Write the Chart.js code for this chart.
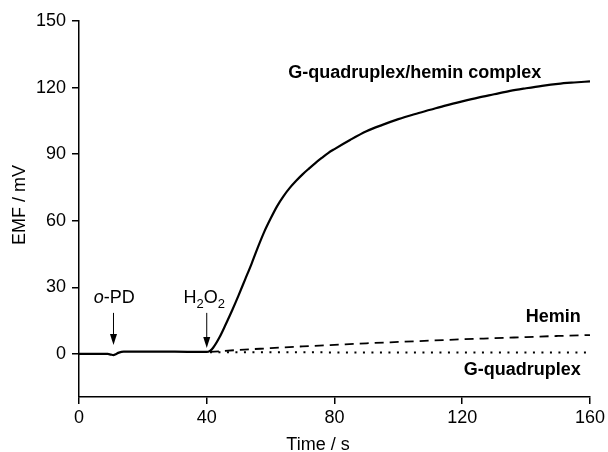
<!DOCTYPE html>
<html>
<head>
<meta charset="utf-8">
<script src="https://cdn.jsdelivr.net/npm/chart.js"></script>
<style>
  body { margin: 0; padding: 0; background: #fff; }
  canvas { display: block; }
</style>
</head>
<body>
<canvas id="emfChart" width="608" height="452"></canvas>
<script>
  // data
  const complexTime = [0, 5, 9, 10, 10.8, 11.5, 12.5, 14, 20, 30, 38, 40, 41, 42, 44, 46, 48, 50, 52, 54, 56, 58, 60, 62, 64, 66, 68, 70, 72, 74, 76, 78, 80, 85, 90, 95, 100, 105, 110, 115, 120, 125, 130, 135, 140, 145, 150, 155, 160];
  const complexEmf = [0, 0, 0, -0.3, -0.5, -0.1, 0.6, 1.0, 1.0, 1.0, 0.9, 0.9, 1.4, 2.8, 7.5, 13.5, 19.8, 26.5, 33.5, 40.5, 48.0, 55.0, 61, 66.5, 71, 74.8, 78.0, 80.9, 83.5, 86, 88.3, 90.5, 92.3, 96.5, 100.3, 103.2, 105.8, 108, 110, 112, 113.8, 115.5, 117, 118.5, 119.7, 120.8, 121.7, 122.3, 122.8];

  const heminTime = [41, 50, 60, 70, 80, 90, 100, 110, 120, 130, 140, 150, 160];
  const heminEmf = [0.9, 1.8, 2.6, 3.4, 4.1, 4.8, 5.4, 6.0, 6.6, 7.1, 7.6, 8.1, 8.5];

  const quadTime = [41, 80, 120, 160];
  const quadEmf = [0.8, 0.7, 0.7, 0.7];

  const xTicks = [0, 40, 80, 120, 160];
  const yTicks = [0, 30, 60, 90, 120, 150];

  const toPoints = (xs, ys) => xs.map((x, i) => ({ x: x, y: ys[i] }));

  const FONT = "'Liberation Sans', Arial, sans-serif";

  // labels, arrows and axis titles
  const annotations = {
    id: 'annotations',
    afterDraw(chart) {
      const ctx = chart.ctx;
      const xs = chart.scales.x, ys = chart.scales.y;
      const px = v => xs.getPixelForValue(v);
      const py = v => ys.getPixelForValue(v);

      ctx.save();
      ctx.fillStyle = '#000';
      ctx.strokeStyle = '#000';
      ctx.textBaseline = 'middle';

      ctx.font = 'bold 18px ' + FONT;
      ctx.textAlign = 'left';
      ctx.fillText('G-quadruplex/hemin complex', px(65.5), py(126.4));
      ctx.textAlign = 'right';
      ctx.fillText('Hemin', px(157.1), py(16.6));
      ctx.fillText('G-quadruplex', px(157.1), py(-7.4));

      // o-PD
      ctx.textAlign = 'left';
      let x0 = px(4.6), y0 = py(25);
      ctx.font = 'italic 18px ' + FONT;
      ctx.fillText('o', x0, y0);
      let w = ctx.measureText('o').width;
      ctx.font = '18px ' + FONT;
      ctx.fillText('-PD', x0 + w, y0);

      // H2O2
      x0 = px(32.7);
      const parts = [['H', 0, 18], ['2', 6, 13], ['O', 0, 18], ['2', 6, 13]];
      parts.forEach(p => {
        ctx.font = p[2] + 'px ' + FONT;
        ctx.fillText(p[0], x0, y0 + p[1]);
        x0 += ctx.measureText(p[0]).width;
      });

      const arrow = (t, vTop, vTip) => {
        const ax = px(t), top = py(vTop), tip = py(vTip);
        ctx.lineWidth = 1;
        ctx.beginPath();
        ctx.moveTo(ax, top);
        ctx.lineTo(ax, tip - 8);
        ctx.stroke();
        ctx.beginPath();
        ctx.moveTo(ax - 3.5, tip - 11);
        ctx.lineTo(ax + 3.5, tip - 11);
        ctx.lineTo(ax, tip);
        ctx.closePath();
        ctx.fill();
      };
      arrow(10.8, 18.5, 4);
      arrow(40, 18.5, 2.7);

      // axis titles
      ctx.font = '18px ' + FONT;
      ctx.textAlign = 'center';
      ctx.textBaseline = 'alphabetic';
      ctx.fillText('Time / s', 318, 450);
      ctx.translate(25, 205);
      ctx.rotate(-Math.PI / 2);
      ctx.fillText('EMF / mV', 0, 0);
      ctx.restore();
    }
  };

  new Chart(document.getElementById('emfChart'), {
    type: 'line',
    data: {
      datasets: [
        {
          label: 'G-quadruplex/hemin complex',
          data: toPoints(complexTime, complexEmf),
          borderColor: '#000',
          borderWidth: 2.2,
          pointRadius: 0,
          cubicInterpolationMode: 'monotone'
        },
        {
          label: 'Hemin',
          data: toPoints(heminTime, heminEmf),
          borderColor: '#000',
          borderWidth: 1.8,
          borderDash: [9, 6],
          pointRadius: 0,
          cubicInterpolationMode: 'monotone'
        },
        {
          label: 'G-quadruplex',
          data: toPoints(quadTime, quadEmf),
          borderColor: '#000',
          borderWidth: 2,
          borderDash: [2, 6.5],
          pointRadius: 0
        }
      ]
    },
    options: {
      responsive: false,
      animation: false,
      layout: { padding: { top: 21, right: 17, left: 0, bottom: 0 } },
      plugins: { legend: { display: false }, tooltip: { enabled: false } },
      scales: {
        x: {
          type: 'linear',
          min: 0,
          max: 160,
          afterBuildTicks: s => { s.ticks = xTicks.map(v => ({ value: v })); },
          afterFit: s => { s.height = 55; },
          border: { color: '#000', width: 1.5 },
          grid: { drawOnChartArea: false, drawTicks: true, tickLength: 7, color: '#000', lineWidth: 1.5 },
          ticks: { color: '#000', padding: 3, maxRotation: 0, font: { family: FONT, size: 18 } }
        },
        y: {
          min: -19.4,
          max: 150,
          afterBuildTicks: s => { s.ticks = yTicks.map(v => ({ value: v })); },
          afterFit: s => { s.width = 79; },
          border: { color: '#000', width: 1.5 },
          grid: { drawOnChartArea: false, drawTicks: true, tickLength: 7, color: '#000', lineWidth: 1.5 },
          ticks: { color: '#000', padding: 6, font: { family: FONT, size: 18 } }
        }
      }
    },
    plugins: [annotations]
  });
</script>
</body>
</html>
